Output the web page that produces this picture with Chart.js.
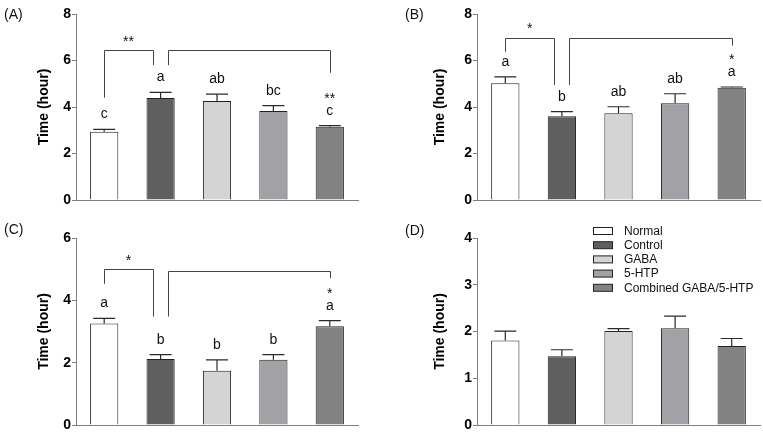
<!DOCTYPE html>
<html>
<head>
<meta charset="utf-8">
<script src="https://cdn.jsdelivr.net/npm/chart.js@4.4.0/dist/chart.umd.min.js"></script>
<style>
  body { margin: 0; background: #fff; width: 763px; height: 435px; position: relative; overflow: hidden; }
  canvas { position: absolute; }
</style>
</head>
<body>
<canvas id="pa" width="381" height="217" style="left:0;top:0"></canvas>
<canvas id="pb" width="382" height="217" style="left:381px;top:0"></canvas>
<canvas id="pc" width="381" height="218" style="left:0;top:217px"></canvas>
<canvas id="pd" width="382" height="218" style="left:381px;top:217px"></canvas>
<script>
const groups = ['Normal', 'Control', 'GABA', '5-HTP', 'Combined GABA/5-HTP'];
const barColors = ['#ffffff', '#5f5f5f', '#d4d4d4', '#a2a2a6', '#828282'];

// (A)
const meanA = [2.94, 4.39, 4.26, 3.83, 3.15];
const errA = [0.10, 0.24, 0.29, 0.23, 0.05];
const lettersA = ['c', 'a', 'ab', 'bc', 'c'];
const starsA = ['', '', '', '', '**'];
// (B)
const meanB = [5.02, 3.60, 3.73, 4.16, 4.83];
const errB = [0.28, 0.20, 0.28, 0.41, 0.03];
const lettersB = ['a', 'b', 'ab', 'ab', 'a'];
const starsB = ['', '', '', '', '*'];
// (C)
const meanC = [3.26, 2.12, 1.74, 2.09, 3.17];
const errC = [0.16, 0.14, 0.35, 0.17, 0.18];
const lettersC = ['a', 'b', 'b', 'b', 'a'];
const starsC = ['', '', '', '', '*'];
// (D)
const meanD = [1.81, 1.47, 2.01, 2.07, 1.69];
const errD = [0.20, 0.14, 0.05, 0.26, 0.16];

const FONT = '"Liberation Sans", Arial, sans-serif';

// error bars, letters, comparison brackets, panel tag, legend
const marks = {
  id: 'marks',
  afterDatasetsDraw(chart, args, o) {
    const { ctx, scales: { y } } = chart;
    const meta = chart.getDatasetMeta(0);
    const data = chart.data.datasets[0].data;
    ctx.save();
    ctx.strokeStyle = '#2a2a2a';
    ctx.lineWidth = 1.2;
    data.forEach((v, i) => {
      const bx = meta.data[i].x;
      const y0 = y.getPixelForValue(v);
      const y1 = y.getPixelForValue(v + o.err[i]);
      ctx.beginPath();
      ctx.moveTo(bx, y0); ctx.lineTo(bx, y1);
      ctx.moveTo(bx - 11, y1); ctx.lineTo(bx + 11, y1);
      ctx.stroke();
      ctx.fillStyle = '#111';
      ctx.textAlign = 'center';
      ctx.textBaseline = 'alphabetic';
      if (o.letters) {
        ctx.font = '14px ' + FONT;
        ctx.fillText(o.letters[i], bx, y1 - 11);
      }
      if (o.stars && o.stars[i]) {
        ctx.font = '14px ' + FONT;
        ctx.fillText(o.stars[i], bx, y1 - 23);
      }
    });

    // brackets
    ctx.strokeStyle = '#444';
    ctx.lineWidth = 1;
    (o.brackets || []).forEach(b => {
      const xa = meta.data[b.from].x + (b.dxFrom || 0);
      const xb = meta.data[b.to].x + (b.dxTo || 0);
      const yt = Math.round(y.getPixelForValue(b.top)) + 0.5;
      ctx.beginPath();
      ctx.moveTo(Math.round(xa) + 0.5, y.getPixelForValue(b.yFrom));
      ctx.lineTo(Math.round(xa) + 0.5, yt);
      ctx.lineTo(Math.round(xb) + 0.5, yt);
      ctx.lineTo(Math.round(xb) + 0.5, y.getPixelForValue(b.yTo));
      ctx.stroke();
      if (b.star) {
        ctx.fillStyle = '#111';
        ctx.font = '14px ' + FONT;
        ctx.textAlign = 'center';
        ctx.fillText(b.star, (xa + xb) / 2, y.getPixelForValue(b.starY) + 8);
      }
    });

    // panel tag
    ctx.fillStyle = '#111';
    ctx.font = '14px ' + FONT;
    ctx.textAlign = 'left';
    ctx.textBaseline = 'middle';
    ctx.fillText(o.tag, o.tagX, o.tagY);

    // legend
    if (o.legend) {
      ctx.font = '12px ' + FONT;
      groups.forEach((g, i) => {
        const ry = 14 + i * 14.2;
        ctx.fillStyle = barColors[i];
        ctx.fillRect(212.5, ry - 3.5, 19, 7);
        ctx.strokeStyle = '#222';
        ctx.strokeRect(212.5, ry - 3.5, 19, 7);
        ctx.fillStyle = '#111';
        ctx.fillText(g, 243, ry + 0.5);
      });
    }
    ctx.restore();
  }
};

function panel(id, means, yMax, pad, yWidth, opts) {
  return new Chart(document.getElementById(id), {
    type: 'bar',
    data: {
      labels: groups,
      datasets: [{
        data: means,
        backgroundColor: barColors,
        borderColor: '#222',
        borderWidth: 1,
        barPercentage: 0.5,
        categoryPercentage: 1
      }]
    },
    options: {
      responsive: false,
      animation: false,
      layout: { padding: pad },
      plugins: { legend: { display: false }, tooltip: { enabled: false }, marks: opts },
      scales: {
        x: {
          ticks: { display: false },
          grid: { display: false },
          border: { display: true, color: '#808080', width: 1 },
          afterFit: s => { s.height = 0; }
        },
        y: {
          min: 0,
          max: yMax,
          ticks: { stepSize: yMax / 4 >= 1.5 ? 2 : 1, color: '#000', padding: 1, font: { family: FONT, size: 14, weight: 'bold' } },
          grid: { drawOnChartArea: false, drawTicks: true, tickLength: 4, color: '#808080' },
          border: { display: true, color: '#808080', width: 1 },
          title: { display: true, text: 'Time (hour)', color: '#000', padding: 0, font: { family: FONT, size: 14, weight: 'bold' } },
          afterFit: s => { s.width = yWidth; }
        }
      }
    },
    plugins: [marks]
  });
}

panel('pa', meanA, 8, { left: 36, right: 23, top: 14, bottom: 17 }, 40, {
  err: errA, letters: lettersA, stars: starsA, tag: '(A)', tagX: 4, tagY: 15,
  brackets: [
    { from: 0, to: 1, dxTo: -8, top: 6.45, yFrom: 4.4, yTo: 5.8, star: '**', starY: 6.97 },
    { from: 1, dxFrom: 7, to: 4, top: 6.45, yFrom: 5.8, yTo: 5.47 }
  ]
});
panel('pb', meanB, 8, { left: 51, right: 3, top: 14, bottom: 17 }, 45, {
  err: errB, letters: lettersB, stars: starsB, tag: '(B)', tagX: 24, tagY: 15,
  brackets: [
    { from: 0, to: 1, dxTo: -8, top: 6.98, yFrom: 6.38, yTo: 4.95, star: '*', starY: 7.53 },
    { from: 1, dxFrom: 7, to: 4, top: 6.98, yFrom: 4.95, yTo: 6.64 }
  ]
});
panel('pc', meanC, 6, { left: 36, right: 23, top: 21, bottom: 10 }, 40, {
  err: errC, letters: lettersC, stars: starsC, tag: '(C)', tagX: 4, tagY: 13,
  brackets: [
    { from: 0, to: 1, dxTo: -8, top: 5.0, yFrom: 4.53, yTo: 3.48, star: '*', starY: 5.38 },
    { from: 1, dxFrom: 7, to: 4, top: 4.95, yFrom: 3.48, yTo: 4.71 }
  ]
});
panel('pd', meanD, 4, { left: 51, right: 3, top: 21, bottom: 10 }, 45, {
  err: errD, tag: '(D)', tagX: 24, tagY: 14, legend: true
});
</script>
</body>
</html>
